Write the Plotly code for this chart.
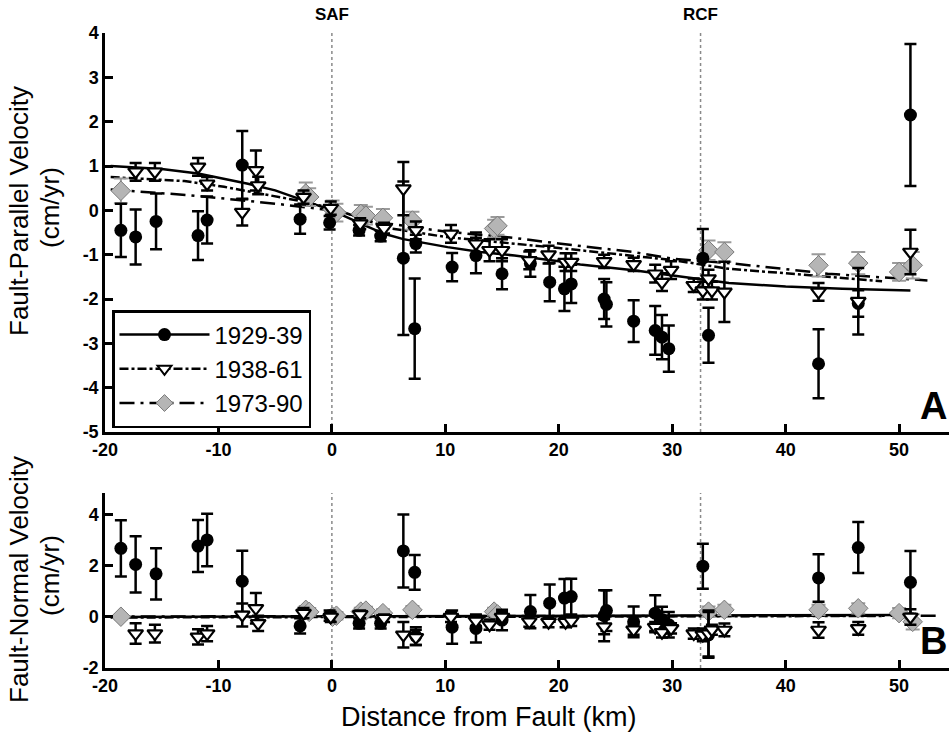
import plotly.graph_objects as go

# ---------------- data: Fault-Parallel (top) ----------------
c_par_x = [-18.6, -17.3, -15.5, -11.8, -11.0, -7.9, -2.8, -0.2, 2.4, 4.3, 6.3, 7.3, 7.4, 10.6, 12.7, 15.0,
           17.5, 19.2, 20.5, 21.1, 24.0, 24.2, 26.6, 28.5, 29.1, 29.7, 32.7, 33.2, 42.9, 46.4, 51.0]
c_par_y = [-0.45, -0.6, -0.25, -0.57, -0.22, 1.02, -0.2, -0.28, -0.45, -0.58, -1.08, -2.67, -0.75, -1.28, -1.02, -1.43,
           -1.2, -1.62, -1.77, -1.66, -2.0, -2.12, -2.5, -2.71, -2.86, -3.12, -1.08, -2.82, -3.46, -2.1, 2.15]
c_par_e = [0.6, 0.62, 0.63, 0.55, 0.53, 0.77, 0.33, 0.15, 0.12, 0.12, 1.73, 1.13, 0.2, 0.32, 0.4, 0.35,
           0.3, 0.43, 0.5, 0.43, 0.45, 0.5, 0.47, 0.55, 0.5, 0.52, 0.66, 0.62, 0.78, 0.3, 1.6]

t_par_x = [-17.3, -15.6, -11.8, -11.0, -7.9, -6.7, -6.5, -2.5, -0.1, 2.5, 4.6, 6.3, 7.4, 10.5, 12.7, 13.9, 15.0,
           17.4, 19.1, 20.6, 21.1, 24.0, 26.6, 28.5, 29.1, 29.9, 31.9, 32.7, 33.2, 33.5, 34.6, 42.9, 46.4, 51.0]
t_par_y = [0.87, 0.87, 0.98, 0.6, -0.04, 0.9, 0.56, 0.3, 0.05, -0.3, -0.4, 0.49, -0.45, -0.53, -0.75, -0.9, -0.9,
           -1.13, -1.0, -1.17, -1.17, -1.15, -1.22, -1.43, -1.62, -1.35, -1.69, -1.81, -1.54, -1.81, -1.84, -1.84, -2.05, -0.94]
t_par_e = [0.2, 0.2, 0.2, 0.15, 0.3, 0.45, 0.2, 0.15, 0.15, 0.12, 0.12, 0.6, 0.2, 0.2, 0.25, 0.25, 0.25,
           0.2, 0.2, 0.2, 0.2, 0.15, 0.15, 0.2, 0.2, 0.2, 0.15, 0.2, 0.2, 0.2, 0.68, 0.2, 0.75, 0.5]

d_par_x = [-18.6, -2.3, -2.0, 0.06, 0.4, 2.55, 3.0, 4.5, 7.1, 14.3, 14.6, 33.2, 34.6, 42.9, 46.4, 50.0, 51.2]
d_par_y = [0.44, 0.38, 0.3, 0.02, -0.05, -0.08, -0.12, -0.17, -0.23, -0.41, -0.35, -0.9, -0.94, -1.24, -1.19, -1.39, -1.24]
d_par_e = [0.28, 0.25, 0.2, 0.2, 0.2, 0.2, 0.2, 0.2, 0.2, 0.2, 0.2, 0.22, 0.22, 0.25, 0.25, 0.2, 0.3]

# model curves (top)
m1_par_x = [-19.5, -15, -11.8, -7.4, -5, -3.3, 0, 3, 4.6, 6.3, 10.2, 13.1, 16.1, 20, 21.9, 26.6, 30, 31.9, 35, 40, 45, 51]
m1_par_y = [1.0, 0.93, 0.83, 0.6, 0.45, 0.3, 0.0, -0.35, -0.53, -0.65, -0.83, -0.94, -1.02, -1.15, -1.22, -1.35, -1.47, -1.54, -1.64, -1.72, -1.77, -1.81]
m2_par_x = [-19.5, -13, -9.5, -6.5, -3, 0, 5, 10, 20, 30, 35, 43, 48.5]
m2_par_y = [0.75, 0.66, 0.53, 0.38, 0.22, 0.05, -0.4, -0.6, -0.85, -1.12, -1.32, -1.48, -1.6]
m3_par_x = [-19.5, -12.5, -8.5, -5, 0, 5, 10, 16, 20, 26.6, 30, 35.4, 43.7, 52.5]
m3_par_y = [0.47, 0.34, 0.24, 0.15, 0.0, -0.3, -0.48, -0.62, -0.75, -0.94, -1.09, -1.2, -1.43, -1.58]

# ---------------- data: Fault-Normal (bottom) ----------------
c_nor_x = [-18.6, -17.3, -15.5, -11.8, -11.0, -7.9, -2.8, -0.2, 2.4, 4.3, 6.3, 7.3, 7.4, 10.6, 12.7, 15.0,
           17.5, 19.2, 20.5, 21.1, 24.0, 24.2, 26.6, 28.5, 29.1, 29.7, 32.7, 33.2, 42.9, 46.4, 51.0]
c_nor_y = [2.69, 2.06, 1.69, 2.78, 3.02, 1.4, -0.35, 0.05, -0.25, -0.25, 2.59, 1.75, -0.75, -0.4, -0.45, -0.12,
           0.21, 0.54, 0.74, 0.8, 0.05, 0.25, -0.19, 0.15, -0.1, -0.3, 1.99, -0.7, 1.53, 2.72, 1.36]
c_nor_e = [1.1, 1.1, 1.0, 1.02, 1.03, 1.2, 0.3, 0.2, 0.2, 0.2, 1.43, 0.68, 0.35, 0.65, 0.55, 0.4,
           0.65, 0.73, 0.75, 0.7, 1.0, 0.8, 0.6, 0.7, 0.5, 0.5, 0.88, 0.9, 0.93, 1.0, 1.23]

t_nor_x = t_par_x
t_nor_y = [-0.65, -0.65, -0.78, -0.65, 0.08, 0.34, -0.25, 0.15, 0.0, 0.1, -0.05, -0.7, -0.8, 0.0, -0.15, -0.3, 0.0,
           -0.18, -0.2, -0.2, -0.15, -0.38, -0.5, -0.4, -0.6, -0.45, -0.65, -0.7, -0.65, -0.5, -0.51, -0.51, -0.45, 0.0]
t_nor_e = [0.4, 0.35, 0.3, 0.3, 0.45, 0.6, 0.3, 0.2, 0.2, 0.15, 0.15, 0.5, 0.3, 0.2, 0.2, 0.2, 0.2,
           0.2, 0.2, 0.2, 0.2, 0.3, 0.2, 0.2, 0.2, 0.2, 0.2, 0.25, 0.9, 0.2, 0.25, 0.3, 0.25, 0.3]

d_nor_x = d_par_x
d_nor_y = [0.01, 0.28, 0.2, 0.01, 0.05, 0.21, 0.25, 0.15, 0.28, 0.21, 0.1, 0.21, 0.28, 0.28, 0.34, 0.15, -0.19]
d_nor_e = [0.1, 0.15, 0.15, 0.15, 0.15, 0.15, 0.15, 0.15, 0.15, 0.15, 0.15, 0.2, 0.2, 0.2, 0.2, 0.2, 0.3]

m1_nor_x = [-19.5, 51]
m1_nor_y = [0.0, 0.08]
m2_nor_x = [-19.5, 48.5]
m2_nor_y = [-0.02, 0.04]
m3_nor_x = [-19.5, 53.5]
m3_nor_y = [0.02, 0.05]

series_names = ["1929-39", "1938-61", "1973-90"]
fault_names = ["SAF", "RCF"]
fault_x = [0.0, 32.5]

x_ticks = [-20, -10, 0, 10, 20, 30, 40, 50]
x_ticktext = ["-20", "-10", "0", "10", "20", "30", "40", "50"]
y1_ticks = [-5, -4, -3, -2, -1, 0, 1, 2, 3, 4]
y1_ticktext = ["-5", "-4", "-3", "-2", "-1", "0", "1", "2", "3", "4"]
y2_ticks = [-2, 0, 2, 4]
y2_ticktext = ["-2", "0", "2", "4"]

# ---------------- styling ----------------
FONT = "Liberation Sans, Arial, Helvetica, sans-serif"
BLACK = "#000000"
GRAY = "#9a9a9a"
LW = 2.5

fig = go.Figure()


def add_panel(xa, ya, cx, cy, ce, tx, ty, te, dx, dy, de, m1, m2, m3):
    fig.add_trace(go.Scatter(x=m3[0], y=m3[1], mode="lines", xaxis=xa, yaxis=ya, showlegend=False,
                             line=dict(color=BLACK, width=LW, dash="longdashdot")))
    fig.add_trace(go.Scatter(x=m2[0], y=m2[1], mode="lines", xaxis=xa, yaxis=ya, showlegend=False,
                             line=dict(color=BLACK, width=LW, dash="dashdot")))
    fig.add_trace(go.Scatter(x=m1[0], y=m1[1], mode="lines", xaxis=xa, yaxis=ya, showlegend=False,
                             line=dict(color=BLACK, width=LW)))
    fig.add_trace(go.Scatter(x=dx, y=dy, mode="markers", xaxis=xa, yaxis=ya, showlegend=False,
                             marker=dict(symbol="diamond", size=15, color="#b5b5b5",
                                         line=dict(color="#7a7a7a", width=1)),
                             error_y=dict(type="data", array=de, color=GRAY, thickness=2, width=7)))
    fig.add_trace(go.Scatter(x=cx, y=cy, mode="markers", xaxis=xa, yaxis=ya, showlegend=False,
                             marker=dict(symbol="circle", size=13, color=BLACK),
                             error_y=dict(type="data", array=ce, color=BLACK, thickness=2.5, width=6)))
    fig.add_trace(go.Scatter(x=tx, y=ty, mode="markers", xaxis=xa, yaxis=ya, showlegend=False,
                             marker=dict(symbol="triangle-down", size=13, color="white",
                                         line=dict(color=BLACK, width=2.2)),
                             error_y=dict(type="data", array=te, color=BLACK, thickness=2.5, width=6)))


add_panel("x", "y", c_par_x, c_par_y, c_par_e, t_par_x, t_par_y, t_par_e, d_par_x, d_par_y, d_par_e,
          (m1_par_x, m1_par_y), (m2_par_x, m2_par_y), (m3_par_x, m3_par_y))
add_panel("x2", "y2", c_nor_x, c_nor_y, c_nor_e, t_nor_x, t_nor_y, t_nor_e, d_nor_x, d_nor_y, d_nor_e,
          (m1_nor_x, m1_nor_y), (m2_nor_x, m2_nor_y), (m3_nor_x, m3_nor_y))

# legend-only traces
fig.add_trace(go.Scatter(x=[None], y=[None], mode="lines+markers", name=series_names[0],
                         line=dict(color=BLACK, width=LW),
                         marker=dict(symbol="circle", size=13, color=BLACK)))
fig.add_trace(go.Scatter(x=[None], y=[None], mode="lines+markers", name=series_names[1],
                         line=dict(color=BLACK, width=LW, dash="dashdot"),
                         marker=dict(symbol="triangle-down", size=12, color="white",
                                     line=dict(color=BLACK, width=2))))
fig.add_trace(go.Scatter(x=[None], y=[None], mode="lines+markers", name=series_names[2],
                         line=dict(color=BLACK, width=LW, dash="longdashdot"),
                         marker=dict(symbol="diamond", size=13, color="#b5b5b5",
                                     line=dict(color="#7a7a7a", width=1))))

# fault lines
shapes = []
for fx in fault_x:
    shapes.append(dict(type="line", xref="x", yref="y", x0=fx, x1=fx, y0=-5, y1=4.0,
                       line=dict(color="#8a8a8a", width=1.5, dash="dot"), layer="below"))
    shapes.append(dict(type="line", xref="x2", yref="y2", x0=fx, x1=fx, y0=-2, y1=4.86,
                       line=dict(color="#8a8a8a", width=1.5, dash="dot"), layer="below"))

# layout geometry (pixels): plot area x 105..949, y 33..668
L, R, T, B = 105, 0, 33, 68
W, H = 949, 736
PW = W - L - R
PH = H - T - B


def py(p):
    return (H - B - p) / PH


def px(p):
    return (p - L) / PW


xr = [-20, 54.4]
axis_common = dict(showline=True, linecolor=BLACK, linewidth=2.5, ticks="inside", ticklen=8,
                   tickwidth=2.5, tickcolor=BLACK, showgrid=False, zeroline=False, mirror=False,
                   tickfont=dict(family=FONT, size=18, color=BLACK, weight="bold"))

XTITLE_FONT = dict(family=FONT, size=27, color=BLACK)
YTITLE_FONT = dict(family=FONT, size=26, color=BLACK)
annotations = []
for name, fx in zip(fault_names, fault_x):
    annotations.append(dict(x=fx, xref="x", y=py(14), yref="paper", text="<b>%s</b>" % name,
                            showarrow=False, font=dict(family=FONT, size=17, color=BLACK),
                            xanchor="center", yanchor="middle"))
annotations += [
    dict(x=1, y=py(429), xref="paper", yref="paper", text="<b>A</b>", showarrow=False,
         xanchor="right", yanchor="bottom", font=dict(family=FONT, size=38, color=BLACK)),
    dict(x=1, y=py(664), xref="paper", yref="paper", text="<b>B</b>", showarrow=False,
         xanchor="right", yanchor="bottom", font=dict(family=FONT, size=38, color=BLACK)),
    dict(x=px(489), y=py(717), xref="paper", yref="paper", text="Distance from Fault (km)",
         showarrow=False, xanchor="center", yanchor="middle", font=XTITLE_FONT),
    dict(x=px(19), y=py(211), xref="paper", yref="paper", text="Fault-Parallel Velocity",
         showarrow=False, textangle=-90, xanchor="center", yanchor="middle", font=YTITLE_FONT),
    dict(x=px(50), y=py(207), xref="paper", yref="paper", text="(cm/yr)",
         showarrow=False, textangle=-90, xanchor="center", yanchor="middle", font=YTITLE_FONT),
    dict(x=px(19), y=py(580), xref="paper", yref="paper", text="Fault-Normal Velocity",
         showarrow=False, textangle=-90, xanchor="center", yanchor="middle", font=YTITLE_FONT),
    dict(x=px(50), y=py(575), xref="paper", yref="paper", text="(cm/yr)",
         showarrow=False, textangle=-90, xanchor="center", yanchor="middle", font=YTITLE_FONT),
]

fig.update_layout(
    width=W, height=H,
    margin=dict(l=L, r=R, t=T, b=B, pad=0),
    paper_bgcolor="white", plot_bgcolor="white",
    font=dict(family=FONT, color=BLACK),
    xaxis=dict(domain=[0, 1], range=xr, anchor="y", tickvals=x_ticks, ticktext=x_ticktext, **axis_common),
    yaxis=dict(domain=[py(432), 1], range=[-5, 4], anchor="x", tickvals=y1_ticks, ticktext=y1_ticktext,
               **axis_common),
    xaxis2=dict(domain=[0, 1], range=xr, anchor="y2", tickvals=x_ticks, ticktext=x_ticktext, **axis_common),
    yaxis2=dict(domain=[0, py(493)], range=[-2, 4.86], anchor="x2", tickvals=y2_ticks, ticktext=y2_ticktext,
                **axis_common),
    shapes=shapes,
    annotations=annotations,
    showlegend=True,
    legend=dict(x=px(112), y=py(428), xanchor="left", yanchor="bottom", bgcolor="white",
                bordercolor=BLACK, borderwidth=2.5, font=dict(family=FONT, size=24, color=BLACK),
                itemwidth=90, tracegroupgap=0),
)

fig.write_html("out.html", config={"displayModeBar": False},
               post_script="document.body.style.margin='0';document.body.style.overflow='hidden';")
